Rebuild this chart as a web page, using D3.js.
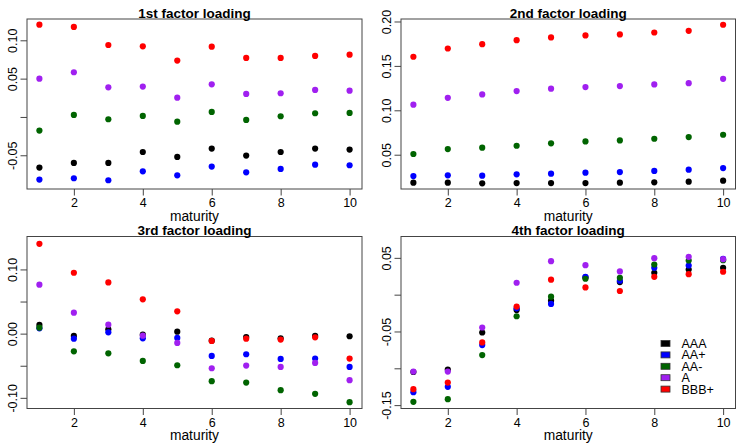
<!DOCTYPE html>
<html>
<head>
<meta charset="utf-8">
<script src="https://cdn.jsdelivr.net/npm/d3@7"></script>
<style>
  body { margin: 0; background: #fff; }
  svg text { font-family: "Liberation Sans", Arial, Helvetica, sans-serif; }
</style>
</head>
<body>
<div id="chart"></div>
<script>
// maturities on the x axis, ratings = series
const maturity = [1, 2, 3, 4, 5, 6, 7, 8, 9, 10];
const ratings = ['AAA', 'AA+', 'AA-', 'A', 'BBB+'];
const ratingColors = ['#000000', '#0000ff', '#006400', '#a020f0', '#ff0000'];

// one row per rating (AAA, AA+, AA-, A, BBB+)
const factor1 = [
    [-0.0661, -0.0600, -0.0600, -0.0457, -0.0522, -0.0413, -0.0504, -0.0457, -0.0413, -0.0426],
    [-0.0817, -0.0800, -0.0826, -0.0709, -0.0761, -0.0648, -0.0722, -0.0678, -0.0622, -0.0630],
    [-0.0178, 0.0026, -0.0030, 0.0013, -0.0061, 0.0065, -0.0039, 0.0009, 0.0048, 0.0052],
    [0.0500, 0.0583, 0.0387, 0.0396, 0.0252, 0.0426, 0.0300, 0.0309, 0.0352, 0.0343],
    [0.1204, 0.1174, 0.0939, 0.0922, 0.0735, 0.0917, 0.0770, 0.0770, 0.0796, 0.0813]
];
const factor2 = [
    [0.0185, 0.0185, 0.0178, 0.0181, 0.0181, 0.0181, 0.0185, 0.0189, 0.0196, 0.0208],
    [0.0260, 0.0268, 0.0264, 0.0279, 0.0286, 0.0298, 0.0305, 0.0317, 0.0332, 0.0350],
    [0.0508, 0.0564, 0.0579, 0.0601, 0.0628, 0.0650, 0.0661, 0.0680, 0.0699, 0.0725],
    [0.1063, 0.1141, 0.1179, 0.1216, 0.1243, 0.1261, 0.1273, 0.1291, 0.1306, 0.1355],
    [0.1603, 0.1696, 0.1745, 0.1790, 0.1820, 0.1843, 0.1854, 0.1876, 0.1895, 0.1963]
];
const factor3 = [
    [0.0135, -0.0036, 0.0067, -0.0016, 0.0031, -0.0110, -0.0052, -0.0073, -0.0036, -0.0041],
    [0.0083, -0.0078, 0.0021, -0.0073, -0.0067, -0.0347, -0.0321, -0.0394, -0.0389, -0.0518],
    [0.0093, -0.0275, -0.0306, -0.0425, -0.0492, -0.0741, -0.0762, -0.0881, -0.0938, -0.1067],
    [0.0762, 0.0326, 0.0140, -0.0031, -0.0145, -0.0539, -0.0497, -0.0518, -0.0456, -0.0725],
    [0.1399, 0.0948, 0.0798, 0.0534, 0.0347, -0.0114, -0.0078, -0.0093, -0.0057, -0.0389]
];
const factor4 = [
    [-0.1050, -0.1018, -0.0514, -0.0207, -0.0081, 0.0234, 0.0171, 0.0297, 0.0342, 0.0365],
    [-0.1324, -0.1252, -0.0685, -0.0185, -0.0126, 0.0243, 0.0189, 0.0365, 0.0396, 0.0486],
    [-0.1455, -0.1419, -0.0820, -0.0293, -0.0027, 0.0216, 0.0230, 0.0410, 0.0464, 0.0468],
    [-0.1045, -0.1045, -0.0446, 0.0162, 0.0455, 0.0401, 0.0315, 0.0495, 0.0514, 0.0482],
    [-0.1284, -0.1194, -0.0649, -0.0162, 0.0203, 0.0099, 0.0050, 0.0243, 0.0279, 0.0311]
];

const titles = ['1st factor loading', '2nd factor loading', '3rd factor loading', '4th factor loading'];
const xTicks = [2, 4, 6, 8, 10];
const yTicks = [
    [-0.05, 0.00, 0.05, 0.10],
    [0.05, 0.10, 0.15, 0.20],
    [-0.10, -0.05, 0.00, 0.05, 0.10],
    [-0.15, -0.10, -0.05, 0.00, 0.05]
];
// ticks that carry a label (R drops the crowded ones)
const yLabelled = [
    [-0.05, 0.05, 0.10],
    [0.05, 0.10, 0.15, 0.20],
    [-0.10, 0.00, 0.10],
    [-0.15, -0.05, 0.05]
];

const W = 737, H = 443;
const panels = [
    {data: factor1, x0: 27, x1: 362, y0: 19, y1: 189, yDomain: [-0.0940, 0.1278]},
    {data: factor2, x0: 401, x1: 735.5, y0: 19, y1: 189, yDomain: [0.0114, 0.2028]},
    {data: factor3, x0: 27, x1: 362, y0: 236.5, y1: 408.5, yDomain: [-0.1166, 0.1513]},
    {data: factor4, x0: 401, x1: 735.5, y0: 236.5, y1: 408.5, yDomain: [-0.1546, 0.0790]}
];

const fmt = v => {
    const s = v.toFixed(2);
    return s === '-0.00' ? '0.00' : s;
};

const svg = d3.select('#chart')
                .append('svg')
                .attr('width', W)
                .attr('height', H);

panels.forEach((p, pi) => {
    const x = d3.scaleLinear().domain([0.64, 10.36]).range([p.x0, p.x1]);
    const y = d3.scaleLinear().domain(p.yDomain).range([p.y1, p.y0]);
    const g = svg.append('g').attr('class', 'panel');

    // points, drawn in legend order so BBB+ sits on top
    p.data.forEach((series, si) => {
        g.selectAll('.pt-' + si)
            .data(series)
            .enter()
            .append('circle')
            .attr('class', 'pt-' + si)
            .attr('cx', (_, i) => x(maturity[i]))
            .attr('cy', d => y(d))
            .attr('r', 3.1)
            .attr('fill', ratingColors[si]);
    });

    // y axis
    const yAxis = g.append('g')
                    .attr('transform', `translate(${p.x0},0)`)
                    .call(d3.axisLeft(y)
                            .tickValues(yTicks[pi])
                            .tickSize(6.5)
                            .tickSizeOuter(0)
                            .tickFormat(v => yLabelled[pi].some(l => Math.abs(l - v) < 1e-9) ? fmt(v) : ''));
    yAxis.select('.domain').remove();
    yAxis.selectAll('line').attr('stroke', '#444');
    yAxis.selectAll('text')
            .attr('transform', 'rotate(-90)')
            .attr('x', 0)
            .attr('y', -10)
            .attr('dy', 0)
            .attr('text-anchor', 'middle')
            .attr('font-size', 12.5)
            .attr('fill', '#000');

    // x axis
    const xAxis = g.append('g')
                    .attr('transform', `translate(0,${p.y1})`)
                    .call(d3.axisBottom(x)
                            .tickValues(xTicks)
                            .tickSize(6.5)
                            .tickSizeOuter(0));
    xAxis.select('.domain').remove();
    xAxis.selectAll('line').attr('stroke', '#444');
    xAxis.selectAll('text')
            .attr('y', 18.4)
            .attr('dy', 0)
            .attr('font-size', 12.5)
            .attr('fill', '#000');

    // box
    g.append('rect')
        .attr('x', p.x0)
        .attr('y', p.y0)
        .attr('width', p.x1 - p.x0)
        .attr('height', p.y1 - p.y0)
        .attr('fill', 'none')
        .attr('stroke', '#444')
        .attr('stroke-width', 1);

    g.append('text')
        .text(titles[pi])
        .attr('x', (p.x0 + p.x1) / 2)
        .attr('y', p.y0 - 1.5)
        .attr('text-anchor', 'middle')
        .attr('font-size', 13.5)
        .attr('font-weight', 'bold');

    g.append('text')
        .text('maturity')
        .attr('x', (p.x0 + p.x1) / 2)
        .attr('y', p.y1 + 31.5)
        .attr('text-anchor', 'middle')
        .attr('font-size', 13.8);
});

// legend in the 4th panel
const legend = svg.append('g')
                    .attr('transform', 'translate(661,343.5)');

ratings.forEach((r, i) => {
    legend.append('rect')
            .attr('x', 0)
            .attr('y', i * 11.4 - 3)
            .attr('width', 9)
            .attr('height', 6)
            .attr('fill', ratingColors[i])
            .attr('stroke', '#333')
            .attr('stroke-width', 0.8);
    legend.append('text')
            .text(r)
            .attr('x', 20.5)
            .attr('y', i * 11.4 + 4.5)
            .attr('font-size', 12.5);
});
</script>
</body>
</html>
